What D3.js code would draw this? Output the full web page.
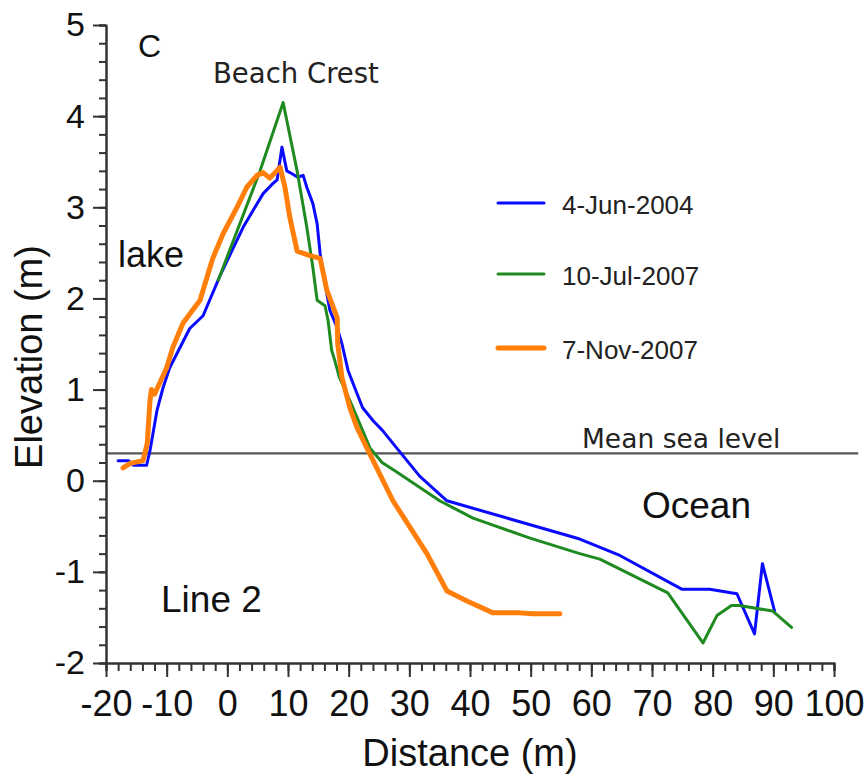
<!DOCTYPE html>
<html>
<head>
<meta charset="utf-8">
<script src="https://cdn.jsdelivr.net/npm/d3@7"></script>
<style>
  html, body { margin: 0; padding: 0; background: #fff; }
  svg { display: block; font-family: "Liberation Sans", Arial, sans-serif; }
</style>
</head>
<body>
<svg id="chart" width="868" height="777"></svg>
<script>
// ---- data ----
const seriesNames = ["4-Jun-2004", "10-Jul-2007", "7-Nov-2007"];
const seriesColors = ["#0a0aff", "#1f8a1f", "#ff7f0a"];
const seriesWidths = [3, 3, 5];

const jun2004Dist = [-18.0,-16.3,-15.5,-13.3,-12.75,-11.6,-10.6,-9.5,-6.2,-4.0,-1.2,2.6,4.9,5.9,7.5,8.2,9.0,9.8,10.6,11.6,12.5,13.1,14.1,14.8,15.3,16.1,16.9,18.1,18.9,19.9,21.0,22.3,24.0,25.6,27.9,31.7,36.2,58.1,64.7,74.9,79.5,84.0,86.9,88.2,90.2];
const jun2004Elev = [0.22,0.22,0.17,0.17,0.33,0.77,1.02,1.24,1.67,1.81,2.25,2.78,3.04,3.15,3.26,3.30,3.66,3.40,3.37,3.33,3.35,3.22,3.04,2.82,2.49,2.16,1.87,1.68,1.50,1.21,1.02,0.80,0.66,0.55,0.36,0.05,-0.22,-0.64,-0.82,-1.19,-1.19,-1.24,-1.68,-0.91,-1.43];

const jul2007Dist = [-1.5,5.4,9.2,11.5,13.1,14.1,14.8,16.1,16.6,17.2,17.7,18.5,20.2,21.8,23.5,25.5,27.8,35.0,40.5,49.9,58.1,61.4,72.6,78.4,80.7,83.1,84.4,89.9,93.0];
const jul2007Elev = [2.20,3.40,4.15,3.40,2.78,2.34,1.98,1.92,1.76,1.43,1.32,1.13,0.88,0.63,0.36,0.20,0.10,-0.22,-0.41,-0.63,-0.80,-0.86,-1.23,-1.78,-1.48,-1.37,-1.37,-1.43,-1.61];

const nov2007Dist = [-17.2,-16.0,-13.9,-13.2,-12.75,-12.5,-12.0,-11.3,-10.0,-9.0,-7.3,-4.5,-2.4,-0.7,1.6,3.2,4.9,5.9,7.0,8.7,9.5,10.3,11.5,13.6,15.3,16.4,18.1,18.2,18.9,20.2,21.4,23.0,27.3,32.9,36.2,39.5,43.8,48.2,50.3,54.8];
const nov2007Elev = [0.14,0.19,0.22,0.41,0.88,1.00,0.95,1.05,1.24,1.46,1.73,1.98,2.44,2.71,3.00,3.22,3.35,3.38,3.32,3.44,3.22,2.89,2.52,2.47,2.44,2.09,1.79,1.50,1.13,0.80,0.58,0.36,-0.22,-0.80,-1.21,-1.32,-1.45,-1.45,-1.46,-1.46];

const xTicks = [-20,-10,0,10,20,30,40,50,60,70,80,90,100];
const yTicks = [-2,-1,0,1,2,3,4,5];
const meanSeaLevel = 0.30;

// ---- layout ----
const ARIAL = '"Liberation Sans", Arial, sans-serif';
const VERD = '"DejaVu Sans", Verdana, sans-serif';
const svg = d3.select("#chart");
const x = d3.scaleLinear().domain([-20, 100]).range([106, 834]);
const y = d3.scaleLinear().domain([-2, 5]).range([663, 25]);

const series = [
  {dist: jun2004Dist, elev: jun2004Elev},
  {dist: jul2007Dist, elev: jul2007Elev},
  {dist: nov2007Dist, elev: nov2007Elev}
].map((s, i) => ({
  name: seriesNames[i], color: seriesColors[i], width: seriesWidths[i],
  pts: s.dist.map((d, j) => [d, s.elev[j]])
}));

// mean sea level line
svg.append("line")
  .attr("x1", x(-20)).attr("x2", x(104))
  .attr("y1", y(meanSeaLevel)).attr("y2", y(meanSeaLevel))
  .attr("stroke", "#555").attr("stroke-width", 2.2);

// minor ticks
const xMinor = d3.range(-20, 100.01, 2);
const yMinor = d3.range(-2, 5.01, 0.2).map(v => +v.toFixed(2));

const gxMinor = svg.append("g").attr("transform", `translate(0,${y(-2)})`)
  .call(d3.axisBottom(x).tickValues(xMinor).tickSize(8).tickFormat(""));
const gyMinor = svg.append("g").attr("transform", `translate(${x(-20)},0)`)
  .call(d3.axisLeft(y).tickValues(yMinor).tickSize(7).tickFormat(""));

const gx = svg.append("g").attr("transform", `translate(0,${y(-2)})`)
  .call(d3.axisBottom(x).tickValues(xTicks).tickSize(14).tickSizeOuter(0).tickPadding(13)
    .tickFormat(d => String(d)));
const gy = svg.append("g").attr("transform", `translate(${x(-20)},0)`)
  .call(d3.axisLeft(y).tickValues(yTicks).tickSize(13).tickSizeOuter(0).tickPadding(8)
    .tickFormat(d => String(d)));

[gx, gy, gxMinor, gyMinor].forEach(g => {
  g.attr("font-family", null).attr("font-size", null);
  g.selectAll("path.domain").attr("stroke", "#333").attr("stroke-width", 2);
  g.selectAll(".tick line").attr("stroke", "#333").attr("stroke-width", 2);
});
gx.selectAll("text").style("font-size", "36px").style("font-family", ARIAL).attr("fill", "#111");
gy.selectAll("text").style("font-size", "34px").style("font-family", ARIAL).attr("fill", "#111");

// series lines
const line = d3.line().x(d => x(d[0])).y(d => y(d[1]));
series.forEach(s => {
  svg.append("path").datum(s.pts)
    .attr("d", line)
    .attr("fill", "none")
    .attr("stroke", s.color)
    .attr("stroke-width", s.width)
    .attr("stroke-linejoin", "round")
    .attr("stroke-linecap", "round");
});

// legend
const legY = [203, 274, 348];
series.forEach((s, i) => {
  svg.append("line").attr("x1", 498).attr("x2", 544)
    .attr("y1", legY[i]).attr("y2", legY[i])
    .attr("stroke", s.color).attr("stroke-width", s.width)
    .attr("stroke-linecap", "round");
  svg.append("text").attr("x", 562).attr("y", legY[i] + 11)
    .style("font-family", ARIAL).style("font-size", "26px")
    .attr("fill", "#222").text(s.name);
});

// annotations
function label(xp, yp, txt, size, fam, fill) {
  return svg.append("text").attr("x", xp).attr("y", yp)
    .style("font-family", fam).style("font-size", size + "px")
    .attr("fill", fill || "#111").text(txt);
}
label(138, 57, "C", 32, ARIAL);
label(213, 83, "Beach Crest", 27.5, VERD, "#222");
label(118, 267, "lake", 36, ARIAL);
label(161, 612, "Line 2", 37, ARIAL);
label(642, 518, "Ocean", 37, ARIAL);
label(582, 448, "Mean sea level", 26.5, VERD, "#222");

// axis titles
svg.append("text").attr("x", 470).attr("y", 766).attr("text-anchor", "middle")
  .style("font-family", ARIAL).style("font-size", "38px").attr("fill", "#111")
  .text("Distance (m)");
svg.append("text").attr("transform", "translate(42,357) rotate(-90)")
  .attr("text-anchor", "middle")
  .style("font-family", ARIAL).style("font-size", "38px").attr("fill", "#111")
  .text("Elevation (m)");
</script>
</body>
</html>
